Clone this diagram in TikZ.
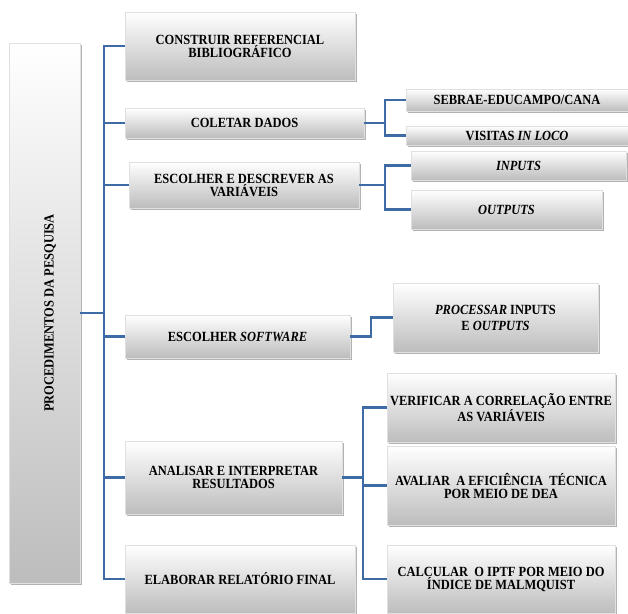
\documentclass[tikz,border=0pt]{standalone}
\usepackage{fontspec}
\setmainfont[FakeStretch=0.89]{Liberation Serif}
\usetikzlibrary{shadows}
\definecolor{lineblue}{RGB}{62,106,166}
\begin{document}
\begin{tikzpicture}[x=1pt,y=-1pt,
  box/.style={anchor=north west, inner sep=0pt, outer sep=0pt, align=center,
    top color=white, bottom color=black!26, draw=black!12, line width=0.4pt,
    drop shadow={shadow xshift=2.2pt, shadow yshift=-2.2pt, opacity=0.5, fill=black!60},
    font=\bfseries\fontsize{14}{13}\selectfont},
  conn/.style={draw=lineblue, line width=2.8pt}]
\useasboundingbox[fill=white] (0,0) rectangle (628,613);

\node[box, minimum width=71pt, minimum height=540pt] (main) at (9,43) {\hspace{11pt}\rotatebox{90}{PROCEDIMENTOS DA PESQUISA}};

\node[box, minimum width=230pt, minimum height=68pt] (b1) at (125,12) {CONSTRUIR REFERENCIAL\\BIBLIOGRÁFICO};
\node[box, minimum width=239pt, minimum height=30pt] (b2) at (125,108) {COLETAR DADOS};
\node[box, minimum width=230pt, minimum height=46pt] (b3) at (129,162) {ESCOLHER E DESCREVER AS\\VARIÁVEIS};
\node[box, minimum width=225pt, minimum height=43pt] (b4) at (125,315) {ESCOLHER \textit{SOFTWARE}};
\node[box, minimum width=217pt, minimum height=73pt] (b5) at (125,441) {ANALISAR E INTERPRETAR\\RESULTADOS};
\node[box, minimum width=230pt, minimum height=68pt] (b6) at (125,545) {ELABORAR RELATÓRIO FINAL};

\node[box, minimum width=222pt, minimum height=22pt] (s1) at (406,89) {SEBRAE-EDUCAMPO/CANA};
\node[box, minimum width=222pt, minimum height=19pt] (s2) at (406,126) {VISITAS \textit{IN LOCO}};
\node[box, minimum width=215pt, minimum height=29pt] (i1) at (411,151) {\textit{INPUTS}};
\node[box, minimum width=191pt, minimum height=39pt] (i2) at (411,190) {\textit{OUTPUTS}};
\node[box, minimum width=205pt, minimum height=69pt] (p) at (393,283) {\textit{PROCESSAR} INPUTS\\[3pt]E \textit{OUTPUTS}};
\node[box, minimum width=228pt, minimum height=69pt] (v) at (387,373) {VERIFICAR A CORRELAÇÃO ENTRE\\AS VARIÁVEIS};
\node[box, minimum width=228pt, minimum height=79pt] (a) at (387,446) {AVALIAR\ \ A EFICIÊNCIA\ \ TÉCNICA\\POR MEIO DE DEA};
\node[box, minimum width=228pt, minimum height=68pt] (c) at (387,545) {CALCULAR\ \ O IPTF POR MEIO DO\\ÍNDICE DE MALMQUIST};

\coordinate (tx) at (104,0);
\coordinate (cx1) at (385,0);
\coordinate (cx2) at (371,0);
\coordinate (cx3) at (363,0);

\draw[conn] (main.east) -- (main.east -| tx);
\draw[conn] (b1.west) -- (b1.west -| tx) |- (b6.west);
\foreach \n in {b2,b3,b4,b5} \draw[conn] (\n.west) -- (\n.west -| tx);

\draw[conn] (b2.east) -- (b2.east -| cx1);
\draw[conn] (s1.west) -- (s1.west -| cx1) |- (s2.west);
\draw[conn] (b3.east) -- (b3.east -| cx1);
\draw[conn] (i1.west) -- (i1.west -| cx1) |- (i2.west);
\draw[conn] (b4.east) -- (b4.east -| cx2) |- (p.west);
\draw[conn] (b5.east) -- (b5.east -| cx3);
\draw[conn] (v.west) -- (v.west -| cx3) |- (c.west);
\draw[conn] (a.west) -- (a.west -| cx3);
\end{tikzpicture}
\end{document}
